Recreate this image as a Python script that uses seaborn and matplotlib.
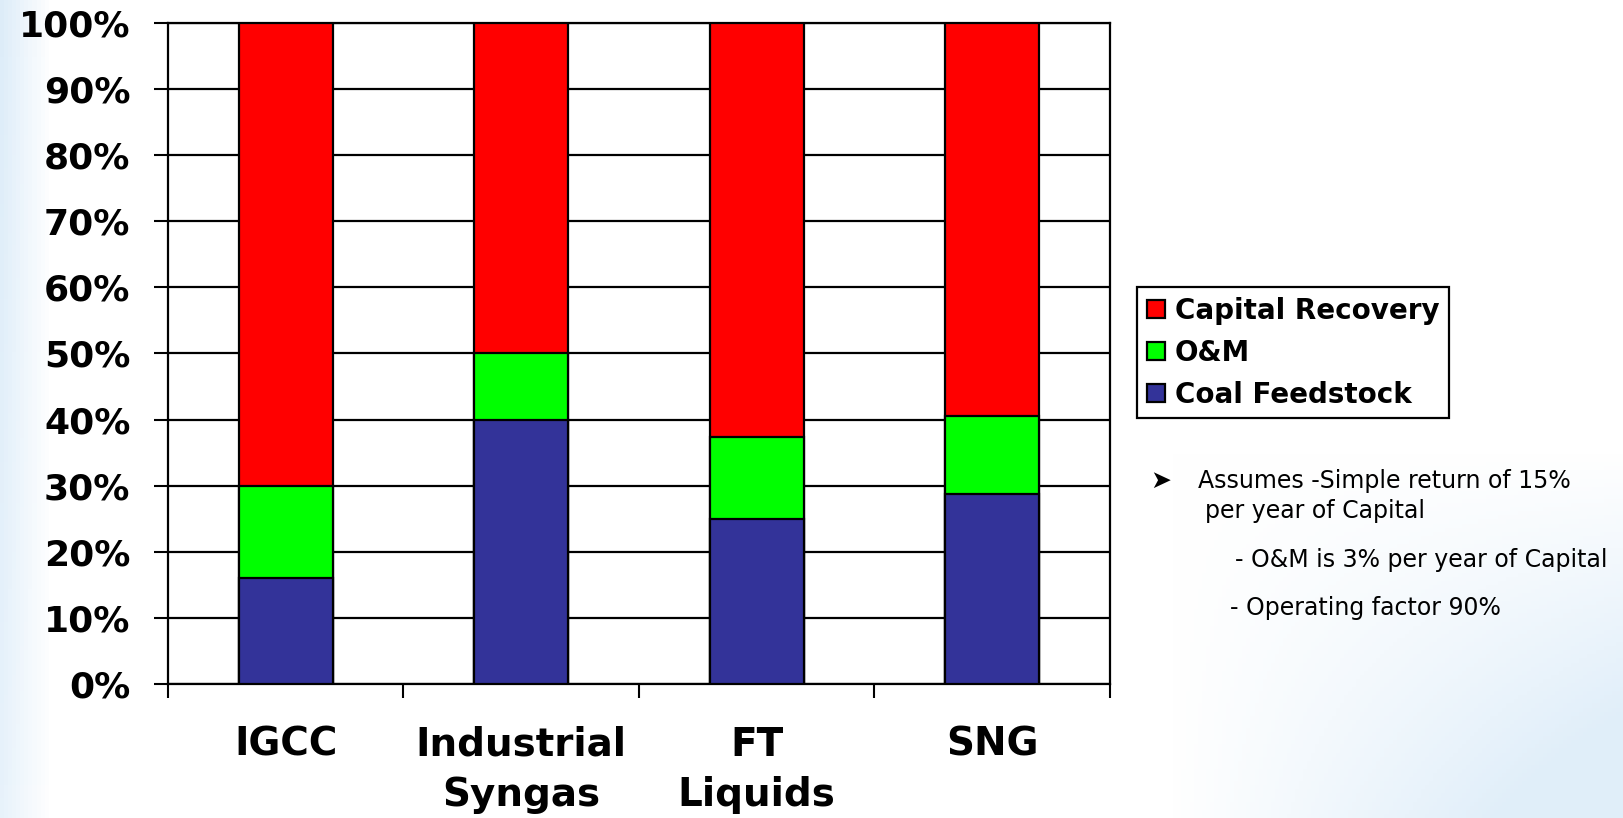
import numpy as np
import pandas as pd
import matplotlib
matplotlib.use("Agg")
import matplotlib.pyplot as plt
import seaborn as sns

categories = ["IGCC", "Industrial\nSyngas", "FT\nLiquids", "SNG"]
coal_feedstock = [16.0, 40.0, 25.0, 28.8]
om = [14.0, 10.0, 12.3, 11.7]
capital_recovery = [70.0, 50.0, 62.7, 59.5]
y_ticks = [0, 10, 20, 30, 40, 50, 60, 70, 80, 90, 100]
y_tick_labels = ["0%", "10%", "20%", "30%", "40%", "50%", "60%", "70%", "80%", "90%", "100%"]
series_names = ["Capital Recovery", "O&M", "Coal Feedstock"]
colors = {"Capital Recovery": "#FF0000", "O&M": "#00FF00", "Coal Feedstock": "#333399"}
notes = [
    "Assumes -Simple return of 15%",
    "per year of Capital",
    "- O&M is 3% per year of Capital",
    "- Operating factor 90%",
]

df = pd.DataFrame({
    "category": categories,
    "coal": coal_feedstock,
    "om": om,
    "cap": capital_recovery,
})
df["top_cap"] = df["coal"] + df["om"] + df["cap"]
df["top_om"] = df["coal"] + df["om"]
df["top_coal"] = df["coal"]

sns.set_style("white")
plt.rcParams["font.family"] = ["DejaVu Sans"]
plt.rcParams["text.color"] = "black"
plt.rcParams["xtick.color"] = "black"
plt.rcParams["ytick.color"] = "black"
plt.rcParams["axes.labelcolor"] = "black"

fig = plt.figure(figsize=(16.24, 8.18), dpi=100)

# subtle background gradient (decoration)
bg = fig.add_axes([0, 0, 1, 1], zorder=-10)
H, W = 200, 400
yy, xx = np.mgrid[0:H, 0:W]
xn = xx / W
yn = yy / H
left = np.clip(1 - xn / 0.03, 0, 1) * np.clip(1 - yn * 0.3, 0, 1) * 0.6
swoosh = np.clip((xn - 0.72) / 0.28, 0, 1) * np.clip((yn - 0.55) / 0.45, 0, 1)
swoosh = np.clip(swoosh * 1.4, 0, 1) * 0.55
t = np.clip(left + swoosh, 0, 1)
img = np.ones((H, W, 3))
blue = np.array([0.78, 0.88, 0.96])
img = img * (1 - t[..., None]) + blue * t[..., None]
bg.imshow(img, aspect="auto", extent=[0, 1, 0, 1], origin="upper")
bg.axis("off")

ax = fig.add_axes([0.1034, 0.1638, 0.58, 0.8081])
ax.set_facecolor("white")

for col, name in [("top_cap", "Capital Recovery"), ("top_om", "O&M"), ("top_coal", "Coal Feedstock")]:
    sns.barplot(data=df, x="category", y=col, color=colors[name], width=0.4,
                edgecolor="black", linewidth=1.6, label=name, ax=ax, zorder=3,
                saturation=1)

ax.set_ylim(0, 100)
ax.set_xlim(-0.5, 3.5)
ax.set_yticks(y_ticks)
ax.set_yticklabels(y_tick_labels, fontsize=26, fontweight="bold")
ax.yaxis.grid(True, color="black", linewidth=1.6, zorder=0)
ax.set_axisbelow(True)
ax.tick_params(axis="y", length=10, width=1.5, color="black", pad=17, left=True)
ax.set_xticks(range(len(categories)))
ax.set_xticklabels(categories, fontsize=28, fontweight="bold", linespacing=1.4)
ax.tick_params(axis="x", which="major", length=0, pad=30)
ax.set_xticks([-0.5, 0.5, 1.5, 2.5, 3.5], minor=True)
ax.tick_params(axis="x", which="minor", length=10, width=1.5, color="black", bottom=True)
ax.set_xlabel("")
ax.set_ylabel("")
for s in ax.spines.values():
    s.set_color("black")
    s.set_linewidth(1.6)
    s.set_visible(True)

handles, labels = ax.get_legend_handles_labels()
hmap = dict(zip(labels, handles))
leg = fig.legend([hmap[n] for n in series_names], series_names,
                 loc="upper left", bbox_to_anchor=(0.6918, 0.666),
                 prop={"weight": "bold", "size": 20},
                 handlelength=0.65, handleheight=0.65, handletextpad=0.35,
                 labelspacing=0.5, borderpad=0.35, fancybox=False,
                 framealpha=1, edgecolor="black")
leg.get_frame().set_linewidth(1.6)
if ax.get_legend() is not None:
    ax.get_legend().remove()

fs = 17
fig.text(1150 / 1624, 1 - 481 / 818, "➤", fontsize=18, va="center", ha="left")
fig.text(1198 / 1624, 1 - 481 / 818, notes[0], fontsize=fs, va="center", ha="left")
fig.text(1205 / 1624, 1 - 511 / 818, notes[1], fontsize=fs, va="center", ha="left")
fig.text(1235 / 1624, 1 - 560 / 818, notes[2], fontsize=fs, va="center", ha="left")
fig.text(1230 / 1624, 1 - 608 / 818, notes[3], fontsize=fs, va="center", ha="left")

fig.savefig("out.png", dpi=100)
